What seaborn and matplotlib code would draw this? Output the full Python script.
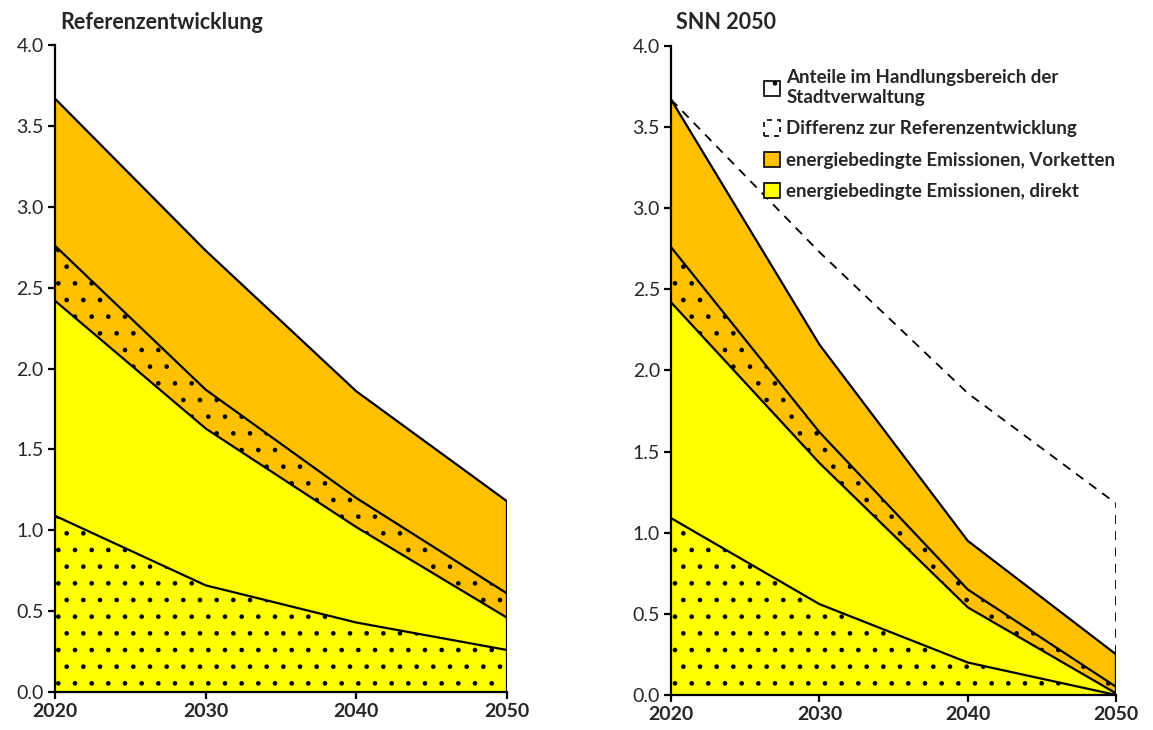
import matplotlib
matplotlib.use("Agg")
import matplotlib.pyplot as plt
import seaborn as sns
import pandas as pd
from matplotlib.patches import Patch

years = [2020, 2030, 2040, 2050]
# Referenzentwicklung (cumulative stack levels)
ref_direct_city = [1.09, 0.66, 0.43, 0.26]
ref_direct_total = [2.42, 1.63, 1.02, 0.46]
ref_chain_city = [2.76, 1.87, 1.20, 0.61]
ref_total = [3.67, 2.73, 1.86, 1.18]
# SNN 2050 (cumulative stack levels)
snn_direct_city = [1.09, 0.56, 0.20, 0.00]
snn_direct_total = [2.42, 1.43, 0.54, 0.01]
snn_chain_city = [2.76, 1.62, 0.65, 0.05]
snn_total = [3.67, 2.16, 0.95, 0.25]

titles = ["Referenzentwicklung", "SNN 2050"]
y_ticks = [0.0, 0.5, 1.0, 1.5, 2.0, 2.5, 3.0, 3.5, 4.0]
legend_labels = ["Anteile im Handlungsbereich der\nStadtverwaltung",
                 "Differenz zur Referenzentwicklung",
                 "energiebedingte Emissionen, Vorketten",
                 "energiebedingte Emissionen, direkt"]

YELLOW = "#FFFF00"
ORANGE = "#FFC000"

sns.set_style("white")
plt.rcParams["font.family"] = ["Lato", "DejaVu Sans"]
plt.rcParams["hatch.linewidth"] = 0.9
plt.rcParams["hatch.color"] = "black"

fig = plt.figure(figsize=(11.53, 7.30), dpi=100)
ax1 = fig.add_axes([0.0477, 0.052, 0.392, 0.886])
ax2 = fig.add_axes([0.582, 0.048, 0.386, 0.889])


def draw(ax, dc, dt, cc, tot):
    z = [0] * len(years)
    ax.fill_between(years, z, dc, facecolor=YELLOW, edgecolor="black", hatch=".", lw=0)
    ax.fill_between(years, dc, dt, facecolor=YELLOW, edgecolor="none", lw=0)
    ax.fill_between(years, dt, cc, facecolor=ORANGE, edgecolor="black", hatch=".", lw=0)
    ax.fill_between(years, cc, tot, facecolor=ORANGE, edgecolor="none", lw=0)
    for s in (dc, dt, cc, tot):
        df = pd.DataFrame({"Jahr": years, "v": s})
        sns.lineplot(data=df, x="Jahr", y="v", ax=ax, color="black", lw=1.6)
    ax.vlines(years[-1], 0, tot[-1], color="black", lw=1.6)


def style(ax, title):
    ax.set_xlim(2020, 2050)
    ax.set_ylim(0, 4.0)
    ax.set_xticks(years)
    ax.set_xticklabels([str(y) for y in years], fontweight="bold", fontsize=14)
    ax.set_yticks(y_ticks)
    ax.set_yticklabels([f"{t:.1f}" for t in y_ticks], fontsize=14)
    ax.set_xlabel("")
    ax.set_ylabel("")
    for sp in ("top", "right"):
        ax.spines[sp].set_visible(False)
    for sp in ("left", "bottom"):
        ax.spines[sp].set_color("black")
        ax.spines[sp].set_linewidth(1.6)
    ax.tick_params(axis="both", direction="out", length=5, width=1.6, color="black",
                   left=True, bottom=True, pad=3)
    ax.set_title(title, loc="left", fontweight="bold", fontsize=15.5, x=0.012, pad=12)


draw(ax1, ref_direct_city, ref_direct_total, ref_chain_city, ref_total)
style(ax1, titles[0])
draw(ax2, snn_direct_city, snn_direct_total, snn_chain_city, snn_total)
df_ref = pd.DataFrame({"Jahr": years, "v": ref_total})
sns.lineplot(data=df_ref, x="Jahr", y="v", ax=ax2, color="black", lw=1.3, linestyle=(0, (5, 4)))
ax2.vlines(years[-1], snn_total[-1], ref_total[-1], color="black", lw=1.3, linestyles=[(0, (5, 4))])
style(ax2, titles[1])

handles = [
    Patch(facecolor="white", edgecolor="black", hatch=".", lw=1.2),
    Patch(facecolor="white", edgecolor="black", linestyle=(0, (3, 3)), lw=1.2),
    Patch(facecolor=ORANGE, edgecolor="black", lw=1.2),
    Patch(facecolor=YELLOW, edgecolor="black", lw=1.2),
]
leg = ax2.legend(handles, legend_labels, loc="upper left", bbox_to_anchor=(0.17, 0.99),
                 frameon=False, prop={"weight": "bold", "size": 13.5},
                 handlelength=0.9, handleheight=0.9, handletextpad=0.3, labelspacing=0.75)

fig.savefig("out.png", dpi=100)
